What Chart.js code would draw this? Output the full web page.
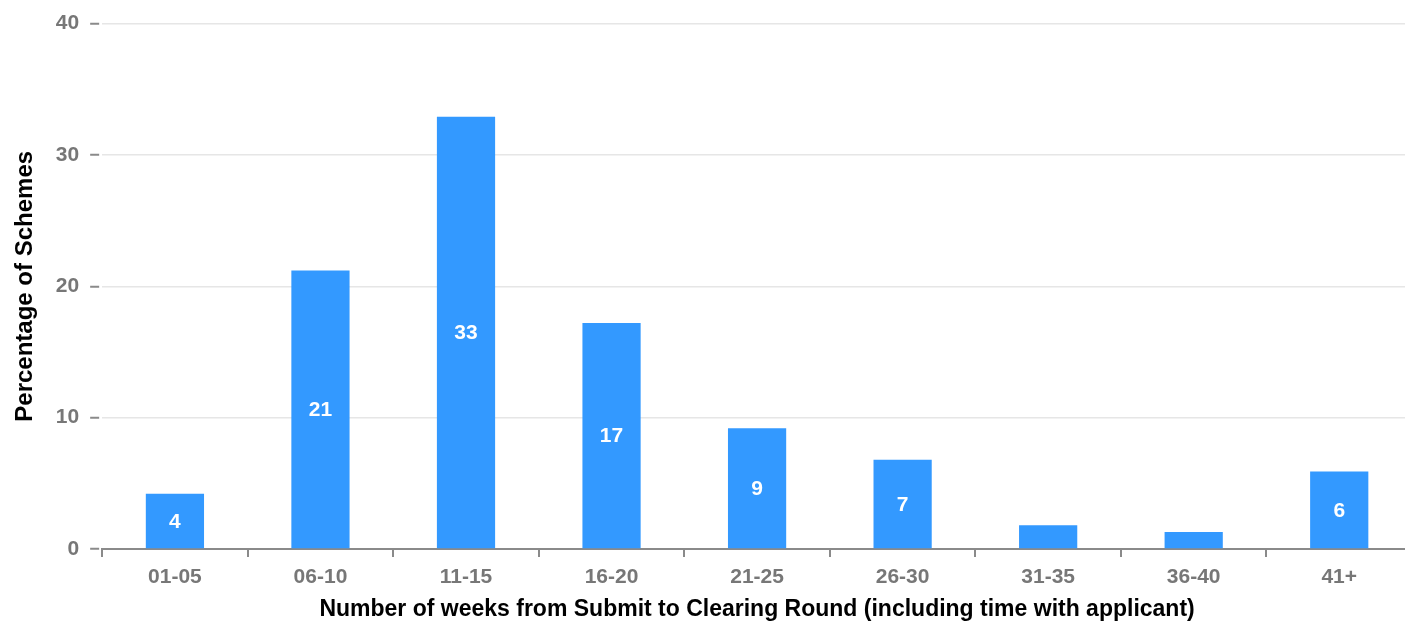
<!DOCTYPE html>
<html>
<head>
<meta charset="utf-8">
<script src="https://cdn.jsdelivr.net/npm/chart.js@4.4.1/dist/chart.umd.min.js"></script>
<style>
  html, body { margin: 0; padding: 0; background: #fff; overflow: hidden; }
  #wrap { width: 1412px; height: 630px; position: relative; }
</style>
</head>
<body>
<div id="wrap"><canvas id="chart-weeks"></canvas></div>
<script>
// week bands and share of schemes (%)
const categories = ['01-05', '06-10', '11-15', '16-20', '21-25', '26-30', '31-35', '36-40', '41+'];
const percentValues = [4.2, 21.2, 32.9, 17.2, 9.2, 6.8, 1.8, 1.3, 5.9];
const yTicks = [0, 10, 20, 30, 40];

const xTitle = 'Number of weeks from Submit to Clearing Round (including time with applicant)';
const yTitle = 'Percentage of Schemes';

const barColor = '#3399ff';
const tickColor = '#777777';
const axisColor = '#8a8a8a';
const fontFamily = "'Liberation Sans', Arial, sans-serif";

// white value labels inside the bars, skipped on bars too short to hold them
const barLabels = {
  id: 'barLabels',
  afterDatasetsDraw(chart) {
    const ctx = chart.ctx;
    const meta = chart.getDatasetMeta(0);
    ctx.save();
    ctx.fillStyle = '#ffffff';
    ctx.font = "bold 21px 'Liberation Sans Narrow', 'Liberation Sans', Arial, sans-serif";
    ctx.textAlign = 'center';
    ctx.textBaseline = 'middle';
    meta.data.forEach((bar, i) => {
      const v = percentValues[i];
      if (v < 3) return;
      ctx.fillText(String(Math.round(v)), bar.x, (bar.y + bar.base) / 2 + 1);
    });
    ctx.restore();
  },
};

new Chart(document.getElementById('chart-weeks'), {
  type: 'bar',
  data: {
    labels: categories,
    datasets: [{
      data: percentValues,
      backgroundColor: barColor,
      categoryPercentage: 1,
      barPercentage: 0.4,
    }],
  },
  options: {
    responsive: true,
    maintainAspectRatio: false,
    animation: false,
    layout: { padding: { top: 7, left: 6, right: 0, bottom: 9 } },
    plugins: {
      legend: { display: false },
      tooltip: { enabled: false },
    },
    scales: {
      x: {
        border: { display: true, color: axisColor, width: 2 },
        grid: {
          drawOnChartArea: false,
          drawTicks: true,
          tickLength: 8,
          color: axisColor,
          lineWidth: 2,
        },
        ticks: {
          color: tickColor,
          padding: 10,
          font: { family: fontFamily, size: 21, weight: 'bold', lineHeight: 1 },
        },
        title: {
          display: true,
          text: xTitle,
          color: '#000',
          padding: { top: 0, bottom: 0 },
          font: { family: fontFamily, size: 23, weight: 'bold', lineHeight: 1 },
        },
      },
      y: {
        min: 0,
        max: 40,
        afterBuildTicks: (scale) => { scale.ticks = yTicks.map(v => ({ value: v })); },
        border: { display: false },
        grid: {
          color: '#e6e6e6',
          lineWidth: 1.5,
          tickColor: axisColor,
          tickLength: 12,
          tickWidth: 2,
          tickBorderDash: [9, 30],
        },
        ticks: {
          color: tickColor,
          padding: 11,
          font: { family: fontFamily, size: 21, weight: 'bold' },
        },
        title: {
          display: true,
          text: yTitle,
          color: '#000',
          padding: { top: 5, bottom: 5 },
          font: { family: fontFamily, size: 24, weight: 'bold' },
        },
      },
    },
  },
  plugins: [barLabels],
});
</script>
</body>
</html>
